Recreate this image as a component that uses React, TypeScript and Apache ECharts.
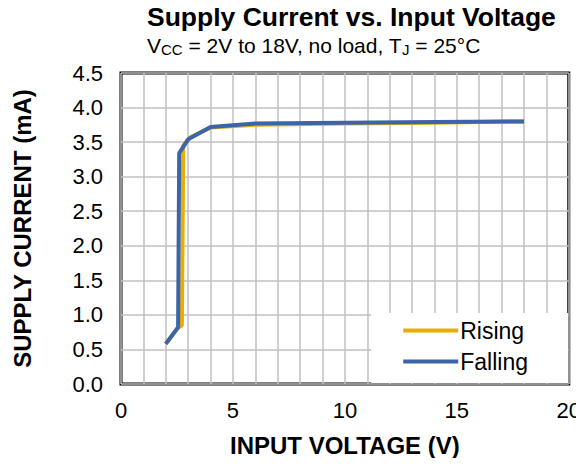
import React, { useEffect, useRef } from "react";
import * as echarts from "echarts";

const risingV = [2.0, 2.5, 2.72, 2.78, 3.1, 4.0, 6.0, 10.0, 14.0, 18.0];
const risingI = [0.58, 0.8, 0.85, 3.45, 3.57, 3.71, 3.75, 3.77, 3.78, 3.8];
const fallingV = [2.0, 2.55, 2.6, 3.0, 4.0, 6.0, 10.0, 14.0, 18.0];
const fallingI = [0.58, 0.82, 3.34, 3.54, 3.72, 3.77, 3.78, 3.79, 3.8];
const seriesNames = ["Rising", "Falling"];
const FONT = "Liberation Sans, Arial, sans-serif";

export default function App() {
  const ref = useRef<HTMLDivElement>(null);
  useEffect(() => {
    if (!ref.current) return;
    const chart = echarts.init(ref.current, null, { renderer: "svg" });
    chart.setOption({
      animation: false,
      backgroundColor: "#fff",
      textStyle: { fontFamily: FONT },
      title: {
        left: 145,
        top: 1,
        padding: [2, 2, 2, 2],
        text: "Supply Current vs. Input Voltage",
        textStyle: { fontFamily: FONT, fontSize: 26.5, fontWeight: "bold", color: "#000" },
        subtext: "{v|V}{s|CC}{v| = 2V to 18V, no load, T}{s|J}{v| = 25°C}",
        itemGap: 3,
        subtextStyle: {
          rich: {
            v: { fontFamily: FONT, fontSize: 21, color: "#000", lineHeight: 24 },
            s: { fontFamily: FONT, fontSize: 15, color: "#000", lineHeight: 24, padding: [9, 0, 0, 0] },
          },
        },
      },
      grid: {
        left: 121,
        right: 14,
        top: 73,
        bottom: 82,
        show: true,
        borderColor: "#000",
        borderWidth: 3,
        backgroundColor: "transparent",
      },
      legend: {
        orient: "vertical",
        right: 16,
        bottom: 83,
        backgroundColor: "#fff",
        padding: [6, 40, 10, 32],
        itemGap: 8,
        itemWidth: 55,
        itemHeight: 4,
        icon: "rect",
        data: seriesNames,
        textStyle: { fontFamily: FONT, fontSize: 23, color: "#000", padding: [0, 0, 0, -3] },
      },
      xAxis: {
        type: "value",
        min: 0,
        max: 20,
        interval: 1,
        name: "INPUT VOLTAGE (V)",
        nameLocation: "middle",
        nameGap: 49,
        nameTextStyle: { fontFamily: FONT, fontSize: 24, fontWeight: "bold", color: "#000" },
        axisLine: { show: false },
        axisTick: { show: false },
        axisLabel: {
          fontFamily: FONT,
          fontSize: 22,
          color: "#000",
          margin: 15,
          formatter: (v: number) => (v % 5 === 0 ? String(v) : ""),
        },
        splitLine: { show: true, lineStyle: { color: "#c0c0c0", width: 1.5 } },
      },
      yAxis: {
        type: "value",
        min: 0,
        max: 4.5,
        interval: 0.5,
        name: "SUPPLY CURRENT (mA)",
        nameLocation: "middle",
        nameGap: 87,
        nameTextStyle: { fontFamily: FONT, fontSize: 24, fontWeight: "bold", color: "#000" },
        axisLine: { show: false },
        axisTick: { show: false },
        axisLabel: {
          fontFamily: FONT,
          fontSize: 22,
          color: "#000",
          margin: 18,
          formatter: (v: number) => v.toFixed(1),
        },
        splitLine: { show: true, lineStyle: { color: "#c0c0c0", width: 1.5 } },
      },
      series: [
        {
          name: seriesNames[0],
          type: "line",
          data: risingV.map((v, i) => [v, risingI[i]]),
          showSymbol: false,
          symbol: "none",
          lineStyle: { color: "#E8AE00", width: 4 },
          itemStyle: { color: "#E8AE00" },
          z: 2,
        },
        {
          name: seriesNames[1],
          type: "line",
          data: fallingV.map((v, i) => [v, fallingI[i]]),
          showSymbol: false,
          symbol: "none",
          lineStyle: { color: "#3C64AA", width: 4 },
          itemStyle: { color: "#3C64AA" },
          z: 3,
        },
      ],
    });
    return () => chart.dispose();
  }, []);
  return <div ref={ref} style={{ width: 584, height: 466, margin: -8 }} />;
}
